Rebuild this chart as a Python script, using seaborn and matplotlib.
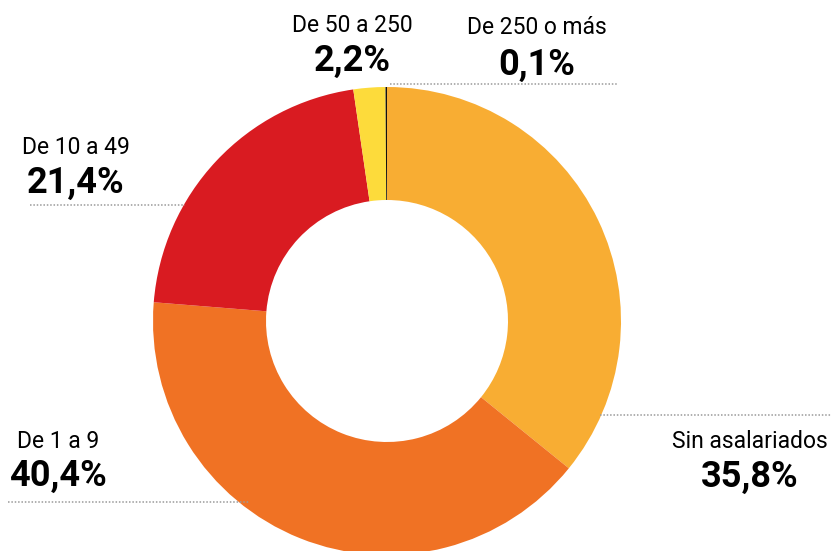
import seaborn as sns
import matplotlib.pyplot as plt

# data, clockwise from 12 o'clock
categories = ["Sin asalariados", "De 1 a 9", "De 10 a 49", "De 50 a 250", "De 250 o más"]
shares = [35.8, 40.4, 21.4, 2.2, 0.1]
share_labels = ["35,8%", "40,4%", "21,4%", "2,2%", "0,1%"]
colors = ["#F8AD33", "#F07224", "#D91B21", "#FDDB3B", "#111111"]

sns.set_theme(style="white")
plt.rcParams["font.family"] = ["Roboto", "DejaVu Sans"]

W, H = 831, 551
fig = plt.figure(figsize=(W / 100, H / 100), dpi=100)
ax = fig.add_axes([0, 0, 1, 1])

cx, cy, r_out, r_in = 387, H - 321, 234, 121
ax.pie(shares, colors=colors, startangle=90, counterclock=False,
       center=(cx, cy), radius=r_out,
       wedgeprops=dict(width=r_out - r_in, linewidth=0.6, edgecolor="none"))
ax.set_xlim(0, W)
ax.set_ylim(0, H)
ax.set_aspect("equal")
ax.axis("off")

# leader lines (pixel coords from top)
leaders = [
    (600, 831, 415),   # Sin asalariados
    (8, 250, 502),     # De 1 a 9
    (30, 185, 205),    # De 10 a 49
    (390, 618, 84),    # De 250 o mas
]
for x0, x1, y in leaders:
    ax.plot([x0, x1], [H - y, H - y], ls=(0, (1, 1.2)), color="#9a9a9a", lw=1.1)

# label positions: (x center, name y, pct y) in pixels from top
label_pos = [
    (750, 441, 477),
    (58, 441, 476),
    (76, 147, 183),
    (352, 25, 61),
    (537, 28, 65),
]
for name, pct, (x, yn, yp) in zip(categories, share_labels, label_pos):
    ax.text(x, H - yn, name, ha="center", va="center", fontsize=16.5, color="black")
    ax.text(x, H - yp, pct, ha="center", va="center", fontsize=26,
            fontweight="bold", color="black")

fig.savefig("out.png", dpi=100)
